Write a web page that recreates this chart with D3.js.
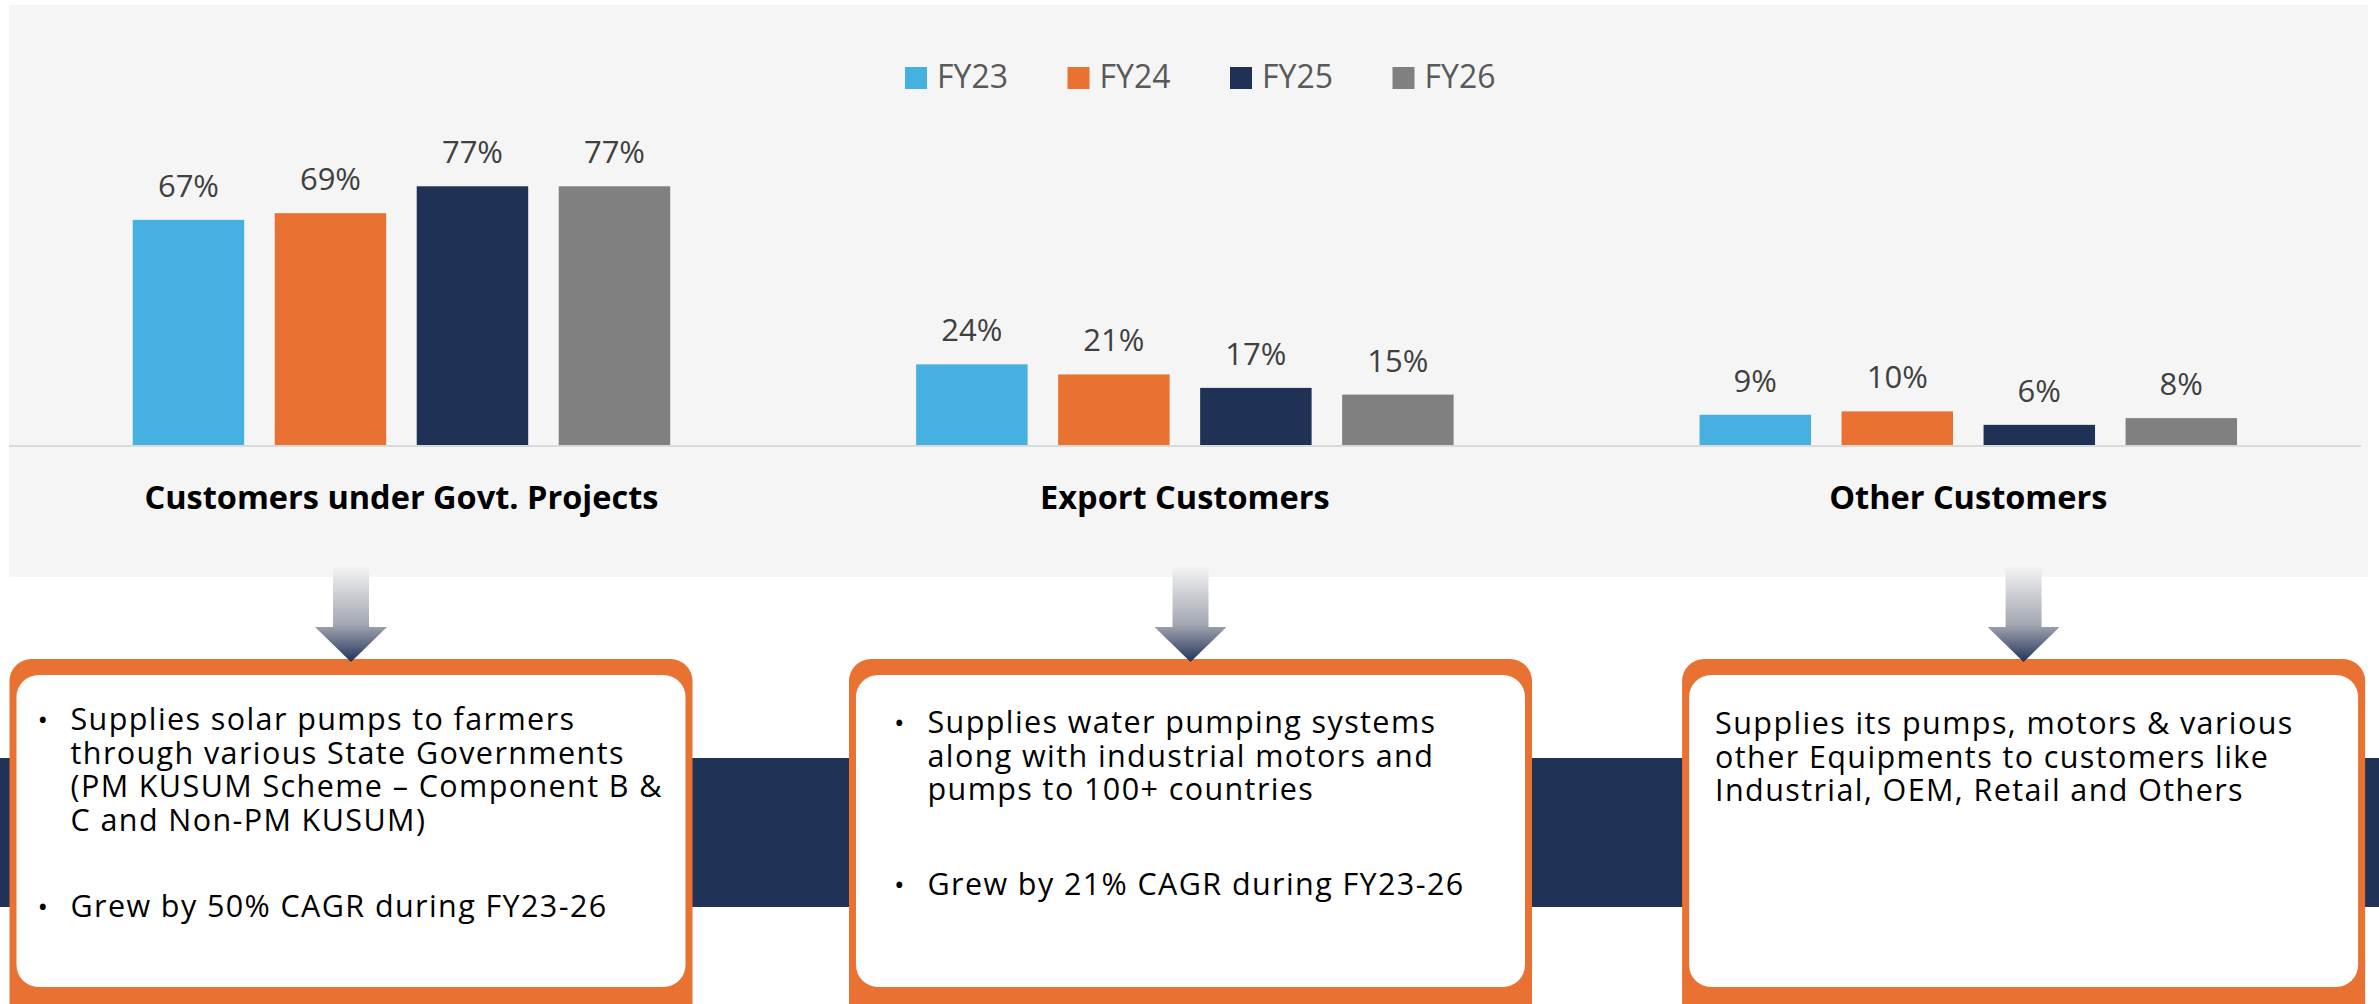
<!DOCTYPE html>
<html>
<head>
<meta charset="utf-8">
<script src="https://cdn.jsdelivr.net/npm/d3@7/dist/d3.min.js"></script>
<style>
  html, body { margin: 0; padding: 0; background: #ffffff; }
  svg { display: block; }
</style>
</head>
<body>
<svg id="chart" width="2379" height="1004"></svg>
<script>
// ---- data ----
const categories = ["Customers under Govt. Projects", "Export Customers", "Other Customers"];
const years = ["FY23", "FY24", "FY25", "FY26"];
const fy23 = [67, 24, 9];
const fy24 = [69, 21, 10];
const fy25 = [77, 17, 6];
const fy26 = [77, 15, 8];
const seriesColors = ["#46b0e0", "#e97132", "#1f3255", "#808080"];
const descriptions = [
  [["Supplies solar pumps to farmers", "through various State Governments", "(PM KUSUM Scheme – Component B &", "C and Non-PM KUSUM)"],
   ["Grew by 50% CAGR during FY23-26"]],
  [["Supplies water pumping systems", "along with industrial motors and", "pumps to 100+ countries"],
   ["Grew by 21% CAGR during FY23-26"]],
  [["Supplies its pumps, motors & various", "other Equipments to customers like", "Industrial, OEM, Retail and Others"]]
];
const bulleted = [true, true, false];

const seriesValues = [fy23, fy24, fy25, fy26];
const rows = categories.map((c, i) => ({ cat: c, vals: years.map((y, j) => ({ year: y, v: seriesValues[j][i], color: seriesColors[j] })) }));

const svg = d3.select("#chart");
const FONT = "'Open Sans', 'DejaVu Sans', sans-serif";

// panel background
svg.append("rect").attr("x", 9).attr("y", 5).attr("width", 2359).attr("height", 572).attr("fill", "#f5f5f5");

// dark navy band
svg.append("rect").attr("x", 0).attr("y", 758).attr("width", 2379).attr("height", 149).attr("fill", "#203356");

// scales
const x0 = d3.scaleBand().domain(categories).range([9.75, 2360]);
const x1 = d3.scaleBand().domain(years).range([0, x0.bandwidth()]).paddingInner(0.215).paddingOuter(0.866);
const y = d3.scaleLinear().domain([0, 100]).range([445, 109]);

// baseline
svg.append("line").attr("x1", 9).attr("x2", 2361).attr("y1", y(0) + 1).attr("y2", y(0) + 1)
  .attr("stroke", "#d9d9d9").attr("stroke-width", 2);

const groups = svg.selectAll("g.grp").data(rows).enter().append("g")
  .attr("class", "grp").attr("transform", d => `translate(${x0(d.cat)},0)`);

groups.selectAll("rect").data(d => d.vals).enter().append("rect")
  .attr("x", d => x1(d.year)).attr("width", x1.bandwidth())
  .attr("y", d => y(d.v)).attr("height", d => y(0) - y(d.v))
  .attr("fill", d => d.color);

groups.selectAll("text.val").data(d => d.vals).enter().append("text")
  .attr("class", "val")
  .attr("x", d => x1(d.year) + x1.bandwidth() / 2)
  .attr("y", d => y(d.v) - 23)
  .attr("text-anchor", "middle")
  .attr("font-family", FONT).attr("font-size", 31).attr("fill", "#404040")
  .text(d => d.v + "%");

groups.append("text")
  .attr("x", x0.bandwidth() / 2).attr("y", 509)
  .attr("text-anchor", "middle")
  .attr("font-family", FONT).attr("font-weight", 700).attr("font-size", 32.5).attr("fill", "#000")
  .text(d => d.cat);

// legend
const legendX = d3.scaleBand().domain(years).range([905, 1555]);
const lg = svg.selectAll("g.lg").data(years).enter().append("g").attr("class", "lg")
  .attr("transform", d => `translate(${legendX(d)},0)`);
lg.append("rect").attr("x", 0).attr("y", 67).attr("width", 22).attr("height", 22)
  .attr("fill", (d, i) => seriesColors[i]);
lg.append("text").attr("x", 32).attr("y", 88)
  .attr("font-family", FONT).attr("font-size", 32).attr("fill", "#595959")
  .text(d => d);

// gradient for arrows
const defs = svg.append("defs");
const grad = defs.append("linearGradient").attr("id", "arrowGrad")
  .attr("gradientUnits", "userSpaceOnUse").attr("x1", 0).attr("x2", 0).attr("y1", 563).attr("y2", 662);
grad.append("stop").attr("offset", 0).attr("stop-color", "#f8f8f8");
grad.append("stop").attr("offset", 0.62).attr("stop-color", "#a3a7b1");
grad.append("stop").attr("offset", 1).attr("stop-color", "#22335a");

// boxes
const boxCenters = [351, 1190.5, 2023.6];
const boxW = 683;
const bulletOffsets = [28, 45, 0];
const textOffsets = [61, 78.5, 33];
const paraYs = [[730, 917], [733, 895], [734]];
boxCenters.forEach((cx, i) => {
  const left = cx - boxW / 2;
  svg.append("rect").attr("x", left).attr("y", 659).attr("width", boxW).attr("height", 370)
    .attr("rx", 22).attr("fill", "#e97132");
  svg.append("rect").attr("x", left + 7).attr("y", 675).attr("width", boxW - 14).attr("height", 312)
    .attr("rx", 22).attr("fill", "#ffffff");
  // arrow
  const p = d3.path();
  p.moveTo(cx - 18, 563); p.lineTo(cx + 18, 563); p.lineTo(cx + 18, 627); p.lineTo(cx + 36, 627);
  p.lineTo(cx, 662); p.lineTo(cx - 36, 627); p.lineTo(cx - 18, 627); p.closePath();
  svg.append("path").attr("d", p.toString()).attr("fill", "url(#arrowGrad)");

  // text
  const textX = left + textOffsets[i];
  const bulletX = left + bulletOffsets[i];
  descriptions[i].forEach((lines, k) => {
    const baseY = paraYs[i][k];
    if (bulleted[i]) {
      svg.append("text").attr("x", bulletX).attr("y", baseY)
        .attr("font-family", FONT).attr("font-size", 28).attr("fill", "#000").text("•");
    }
    const t = svg.append("text").attr("x", textX).attr("y", baseY)
      .attr("font-family", FONT).attr("font-size", 30.5).attr("letter-spacing", 1.4).attr("fill", "#000");
    lines.forEach((ln, m) => {
      t.append("tspan").attr("x", textX).attr("y", baseY + m * 33.5).text(ln);
    });
  });
});
</script>
</body>
</html>
